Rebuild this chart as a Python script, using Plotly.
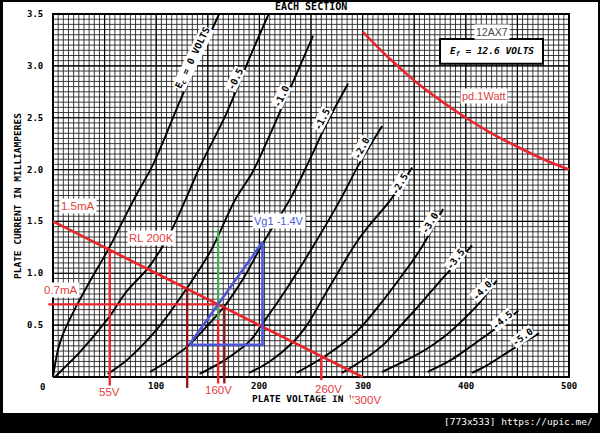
import numpy as np
import plotly.graph_objects as go

# ---------------- data ----------------
# plate voltage (V) / plate current (mA) for each grid voltage curve
ec0_v = [0, 2, 5, 10, 23, 39, 53, 69, 81, 97, 126, 161]
ec0_i = [0, 0.12, 0.27, 0.42, 0.69, 0.98, 1.22, 1.53, 1.76, 2.05, 2.73, 3.50]
ec05_v = [2, 10, 26, 53, 71, 92, 111, 128, 142, 168, 191, 209]
ec05_i = [0, 0.08, 0.24, 0.56, 0.82, 1.05, 1.34, 1.70, 2.02, 2.54, 3.09, 3.50]
ec10_v = [53, 70, 86, 104, 130, 153, 176, 193, 205, 228, 252]
ec10_i = [0.03, 0.15, 0.30, 0.50, 0.86, 1.22, 1.70, 1.97, 2.22, 2.74, 3.29]
ec15_v = [94, 112, 132, 150, 166, 185, 204, 230, 249, 265, 286]
ec15_i = [0.05, 0.16, 0.31, 0.50, 0.68, 0.96, 1.30, 1.72, 2.10, 2.44, 2.83]
ec20_v = [142, 166, 191, 202, 223, 249, 279, 297, 319]
ec20_i = [0.03, 0.16, 0.35, 0.50, 0.80, 1.21, 1.72, 2.06, 2.42]
ec25_v = [190, 210, 233, 246, 268, 297, 328, 348]
ec25_i = [0.04, 0.15, 0.34, 0.50, 0.87, 1.34, 1.72, 2.02]
ec30_v = [236, 262, 288, 302, 320, 336, 354, 366, 378]
ec30_i = [0.04, 0.19, 0.38, 0.52, 0.74, 0.95, 1.20, 1.40, 1.62]
ec35_v = [280, 298, 320, 340, 352, 366, 380, 394, 406]
ec35_i = [0.04, 0.15, 0.31, 0.53, 0.66, 0.82, 0.98, 1.13, 1.27]
ec40_v = [319, 340, 362, 378, 394, 412, 430]
ec40_i = [0.05, 0.15, 0.27, 0.38, 0.52, 0.70, 0.93]
ec45_v = [363, 385, 404, 428, 451]
ec45_i = [0.05, 0.16, 0.29, 0.46, 0.64]
ec50_v = [406, 420, 436, 452, 471]
ec50_i = [0.04, 0.11, 0.21, 0.31, 0.42]

curve_labels = ["E<sub>c</sub> = 0 VOLTS", "-0.5", "-1.0", "-1.5", "-2.0", "-2.5",
                "-3.0", "-3.5", "-4.0", "-4.5", "-5.0"]

# plate dissipation 1 W curve
pd_v = [300, 325, 350, 375, 400, 425, 450, 475, 500]
pd_i = [3.33, 3.08, 2.86, 2.67, 2.50, 2.35, 2.22, 2.10, 2.00]

# load line RL 200K, B+ 300 V
load_v = [0, 300]
load_i = [1.5, 0]

# construction lines
op_v, op_i = 160, 0.7           # operating point
sw_v = [55, 130, 166, 260]      # swing verticals (V)
sw_top = [1.225, 0.86, 0.67, 0.2]
green_v = [160, 160]
green_i = [0.55, 1.42]
tri_v = [132, 203, 203, 132]
tri_i = [0.31, 1.30, 0.31, 0.31]

x_ticks = [100, 200, 300, 400, 500]
y_ticks = [0.5, 1.0, 1.5, 2.0, 2.5, 3.0, 3.5]

# ---------------- figure ----------------
RED = "#e8262e"
DARKRED = "#8a1a1a"
BLUE = "#4b57d6"
GREEN = "#3cb04a"
TXTRED = "#e2403c"
MONO = "DejaVu Sans Mono"
SANS = "Liberation Sans, Arial, sans-serif"

XR = [-5.814, 501.94]
YR = [-0.1157, 3.5193]

fig = go.Figure()

# grid
def grid_trace(vs, hs, color, width):
    xs, ys = [], []
    for v in vs:
        xs += [v, v, None]
        ys += [0, 3.5, None]
    for h in hs:
        xs += [0, 500, None]
        ys += [h, h, None]
    return go.Scatter(x=xs, y=ys, mode="lines", line=dict(color=color, width=width),
                      hoverinfo="skip")

fig.add_trace(grid_trace(np.arange(0, 501, 5), np.round(np.arange(0, 3.501, 0.05), 3), "#262626", 0.9))
fig.add_trace(grid_trace(np.arange(0, 501, 50), np.arange(0, 3.51, 0.5), "#000000", 1.15))
fig.add_trace(go.Scatter(x=[0, 500, 500, 0, 0], y=[0, 0, 3.5, 3.5, 0], mode="lines",
                         line=dict(color="black", width=2), hoverinfo="skip"))

curves = [(ec0_v, ec0_i), (ec05_v, ec05_i), (ec10_v, ec10_i), (ec15_v, ec15_i),
          (ec20_v, ec20_i), (ec25_v, ec25_i), (ec30_v, ec30_i), (ec35_v, ec35_i),
          (ec40_v, ec40_i), (ec45_v, ec45_i), (ec50_v, ec50_i)]
for (cv, ci), name in zip(curves, curve_labels):
    fig.add_trace(go.Scatter(x=cv, y=ci, mode="lines", name=name,
                             line=dict(color="black", width=1.9, shape="spline", smoothing=1.0)))

# pd 1 W
fig.add_trace(go.Scatter(x=pd_v, y=pd_i, mode="lines", line=dict(color=RED, width=2.6, shape="spline")))
# load line
fig.add_trace(go.Scatter(x=load_v, y=load_i, mode="lines", line=dict(color=RED, width=2.6)))
# 0.7 mA horizontal
fig.add_trace(go.Scatter(x=[-4.5, op_v + 1], y=[op_i, op_i], mode="lines", line=dict(color=RED, width=2.4)))
# swing verticals
sw_colors = [RED, DARKRED, DARKRED, RED]
sw_bottom = [-0.1, -0.105, -0.105, -0.03]
for v, top, bot, col in zip(sw_v, sw_top, sw_bottom, sw_colors):
    fig.add_trace(go.Scatter(x=[v, v], y=[bot, top], mode="lines", line=dict(color=col, width=2.4)))
fig.add_trace(go.Scatter(x=[op_v, op_v], y=[-0.105, op_i], mode="lines", line=dict(color=RED, width=2.4)))
# green
fig.add_trace(go.Scatter(x=green_v, y=green_i, mode="lines", line=dict(color=GREEN, width=2.2)))
# blue triangle
fig.add_trace(go.Scatter(x=tri_v, y=tri_i, mode="lines", line=dict(color=BLUE, width=2.6)))

# ---------------- annotations ----------------
ann = []
def txt(x, y, s, size=10, color="black", family=MONO, bg=None, angle=0, xanchor="center",
        yanchor="middle", pad=1):
    # positions given in data units; converted to paper units so texts outside
    # the axis range are still drawn
    px = (x - XR[0]) / (XR[1] - XR[0])
    py = (y - YR[0]) / (YR[1] - YR[0])
    d = dict(x=px, y=py, xref="paper", yref="paper", text=s, showarrow=False, textangle=angle,
             font=dict(size=size, color=color, family=family), xanchor=xanchor,
             yanchor=yanchor, borderpad=pad)
    if bg:
        d["bgcolor"] = bg
    ann.append(d)

# curve labels
lab_pos = [(135.7, 3.07, -64), (176.4, 2.87, -64), (221.9, 2.71, -64), (260.7, 2.48, -63),
           (299.4, 2.21, -62), (335.3, 1.86, -60), (365.3, 1.49, -58), (390.5, 1.14, -53),
           (415.7, 0.83, -45), (436.0, 0.55, -40), (455.4, 0.39, -37)]
for (x, y, a), s in zip(lab_pos, curve_labels):
    txt(x, y, "<b>" + s + "</b>", size=9.5, bg="white", angle=a, pad=0)

# ticks
for v in x_ticks:
    txt(v, -0.087, "<b>%d</b>" % v, size=9)
for t in y_ticks:
    txt(-7.5, t, "<b>%.1f</b>" % t, size=9, xanchor="right")
txt(-9.7, -0.096, "<b>0</b>", size=9)

# titles
txt(250, 3.57, "<b>EACH SECTION</b>", size=10)
txt(-34.9, 1.745, "<b>PLATE CURRENT IN MILLIAMPERES</b>", size=9.5, angle=-90)
txt(190.9, -0.2025, "<b>PLATE VOLTAGE IN VOLTS</b>", size=9.5, xanchor="left")

# red labels
txt(24.7, 1.65, "1.5mA", size=11.5, color=TXTRED, family=SANS, bg="white", pad=1)
txt(8.2, 0.84, "0.7mA", size=11.5, color=TXTRED, family=SANS, bg="white", pad=1)
txt(95.9, 1.34, "RL 200K", size=11.5, color=TXTRED, family=SANS, bg="white", pad=1)
txt(55.2, -0.145, "55V", size=11.5, color=TXTRED, family=SANS, bg="white", pad=0)
txt(160, -0.125, "160V", size=11.5, color=TXTRED, family=SANS, bg="white", pad=0)
txt(266.5, -0.116, "260V", size=11.5, color=TXTRED, family=SANS, bg="white", pad=0)
txt(303.3, -0.222, "'300V", size=11.5, color=TXTRED, family=SANS, bg="white", pad=1)
txt(219, 1.50, "Vg1 -1.4V", size=11, color=BLUE, family=SANS, bg="white", pad=1)
txt(425.4, 3.33, "12AX7", size=10.5, color="#444444", family=SANS, bg="white", pad=1)
txt(417.6, 2.71, "pd.1Watt", size=11, color=TXTRED, family=SANS, bg="white", pad=1)
txt(425, 3.14, "<b><i>E<sub>f</sub> = 12.6 VOLTS</i></b>", size=9.5)

# page footer text (paper coords)
ann.append(dict(x=(595 - 47) / 524, y=(389 - 422) / 377, xref="paper", yref="paper",
                text="[773x533] https://upic.me/", showarrow=False,
                font=dict(size=9.5, color="white", family=MONO), xanchor="right", yanchor="middle"))

shapes = [
    # white page on black frame
    dict(type="rect", xref="paper", yref="paper", layer="below",
         x0=(3 - 47) / 524, x1=(598 - 47) / 524, y0=(389 - 413) / 377, y1=(389 - 2) / 377,
         fillcolor="white", line=dict(width=0)),
    # Ef box
    dict(type="rect", xref="x", yref="y", x0=375, x1=474.8, y0=3.02, y1=3.26,
         fillcolor="white", line=dict(color="black", width=2), layer="above"),
]

fig.update_layout(
    width=600, height=433,
    margin=dict(l=47, r=29, t=12, b=44),
    paper_bgcolor="black", plot_bgcolor="white",
    showlegend=False,
    xaxis=dict(range=XR, visible=False, fixedrange=True),
    yaxis=dict(range=YR, visible=False, fixedrange=True),
    annotations=ann, shapes=shapes,
)

fig.write_html("out.html", config={"displayModeBar": False},
               post_script="document.body.style.margin='0';document.body.style.overflow='hidden';")
